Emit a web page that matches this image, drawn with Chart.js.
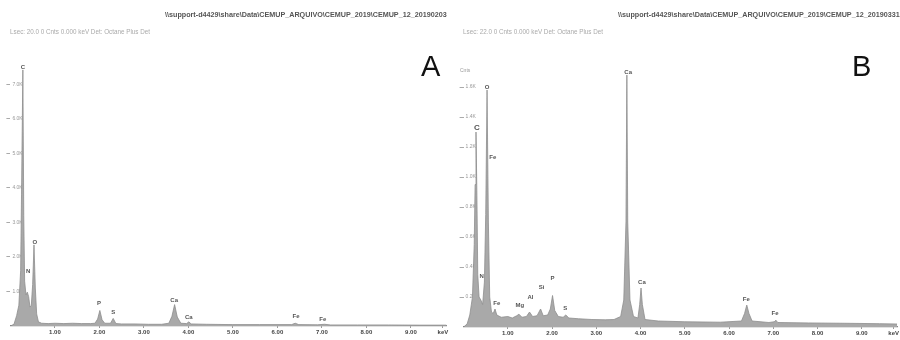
<!DOCTYPE html>
<html>
<head>
<meta charset="utf-8">
<script src="https://cdn.jsdelivr.net/npm/chart.js@4.4.1/dist/chart.umd.min.js"></script>
<style>
  html, body { margin: 0; padding: 0; background: #fff; }
  #wrap { position: relative; width: 900px; height: 340px; overflow: hidden; font-family: "Liberation Sans", Arial, sans-serif; }
  .panel { position: absolute; top: 0; width: 450px; height: 340px; overflow: hidden; }
  .panel canvas { position: absolute; left: 0; top: 0; }
  .path { position: absolute; top: 10px; font-size: 7.2px; font-weight: bold; color: #555; white-space: nowrap; }
  .meta { position: absolute; top: 28px; font-size: 6.3px; color: #aaa; white-space: nowrap; }
  .tag { position: absolute; top: 50px; font-size: 29px; color: #111; }
  .cnts { position: absolute; font-size: 5px; color: #999; }
</style>
</head>
<body>
<div id="wrap">
  <div class="panel" style="left:0">
    <canvas id="specA" width="450" height="340"></canvas>
    <div class="path" style="left:165px">\\support-d4429\share\Data\CEMUP_ARQUIVO\CEMUP_2019\CEMUP_12_20190203</div>
    <div class="meta" style="left:10px">Lsec: 20.0  0 Cnts  0.000 keV  Det: Octane Plus Det</div>
    <div class="tag" style="left:421px">A</div>
  </div>
  <div class="panel" style="left:450px">
    <canvas id="specB" width="450" height="340"></canvas>
    <div class="path" style="left:168px">\\support-d4429\share\Data\CEMUP_ARQUIVO\CEMUP_2019\CEMUP_12_20190331</div>
    <div class="meta" style="left:13px">Lsec: 22.0  0 Cnts  0.000 keV  Det: Octane Plus Det</div>
    <div class="tag" style="left:402px">B</div>
    <div class="cnts" style="left:10px;top:67px">Cnts</div>
  </div>
</div>
<script>
// Energy axis (keV) shared by both spectra
const xTickValues = [1, 2, 3, 4, 5, 6, 7, 8, 9, 9.72];
const xTickLabels = ['1.00', '2.00', '3.00', '4.00', '5.00', '6.00', '7.00', '8.00', '9.00', 'keV'];
const energyMax = 9.8;

// Spectrum A: energy (keV) and counts (K)
const energyA = [0.00, 0.08, 0.14, 0.19, 0.23, 0.25, 0.28, 0.30, 0.32, 0.35, 0.38, 0.41, 0.44, 0.47, 0.50, 0.53, 0.56, 0.59, 0.63, 0.70, 0.85, 1.00, 1.20, 1.40, 1.60, 1.80, 1.90, 1.96, 2.01, 2.06, 2.12, 2.25, 2.31, 2.37, 2.50, 2.80, 3.10, 3.40, 3.56, 3.63, 3.69, 3.75, 3.83, 3.96, 4.01, 4.06, 4.40, 5.00, 5.60, 6.32, 6.40, 6.48, 6.90, 7.06, 7.20, 7.80, 8.50, 9.20, 9.80];
const countsA = [0.00, 0.05, 0.30, 0.60, 1.60, 3.80, 7.42, 3.20, 1.30, 0.90, 0.98, 0.85, 0.55, 0.60, 1.20, 2.35, 1.10, 0.35, 0.12, 0.08, 0.07, 0.08, 0.07, 0.08, 0.07, 0.07, 0.08, 0.20, 0.45, 0.18, 0.08, 0.08, 0.22, 0.07, 0.06, 0.06, 0.05, 0.05, 0.08, 0.28, 0.62, 0.26, 0.08, 0.07, 0.12, 0.06, 0.05, 0.04, 0.04, 0.04, 0.08, 0.04, 0.035, 0.05, 0.03, 0.03, 0.03, 0.025, 0.025];
const yTickValuesA = [1, 2, 3, 4, 5, 6, 7];
const yTickLabelsA = ['1.0K', '2.0K', '3.0K', '4.0K', '5.0K', '6.0K', '7.0K'];
const peakNamesA = ['C', 'N', 'O', 'P', 'S', 'Ca', 'Ca', 'Fe', 'Fe'];
const peakEnergyA = [0.28, 0.40, 0.55, 1.99, 2.31, 3.68, 4.01, 6.42, 7.02];
const peakLevelA = [7.50, 1.57, 2.41, 0.67, 0.41, 0.75, 0.26, 0.29, 0.20];

// Spectrum B: energy (keV) and counts (K)
const energyB = [0.00, 0.08, 0.14, 0.20, 0.24, 0.26, 0.28, 0.30, 0.32, 0.35, 0.39, 0.43, 0.47, 0.50, 0.53, 0.56, 0.59, 0.63, 0.67, 0.71, 0.75, 0.85, 1.00, 1.10, 1.20, 1.25, 1.32, 1.42, 1.49, 1.56, 1.66, 1.74, 1.80, 1.90, 1.96, 2.01, 2.06, 2.14, 2.25, 2.31, 2.38, 2.60, 2.90, 3.20, 3.40, 3.55, 3.62, 3.67, 3.69, 3.71, 3.76, 3.84, 3.94, 3.98, 4.01, 4.04, 4.10, 4.40, 5.00, 5.80, 6.28, 6.35, 6.40, 6.45, 6.52, 6.90, 7.02, 7.06, 7.10, 7.80, 8.60, 9.40, 9.80];
const countsB = [0.00, 0.02, 0.08, 0.20, 0.55, 0.95, 1.30, 0.90, 0.35, 0.20, 0.18, 0.15, 0.30, 0.75, 1.58, 0.70, 0.20, 0.10, 0.09, 0.12, 0.08, 0.065, 0.07, 0.06, 0.075, 0.085, 0.065, 0.07, 0.10, 0.07, 0.075, 0.12, 0.075, 0.08, 0.12, 0.21, 0.11, 0.07, 0.065, 0.08, 0.06, 0.055, 0.05, 0.048, 0.05, 0.07, 0.18, 0.70, 1.68, 0.70, 0.18, 0.07, 0.06, 0.15, 0.26, 0.15, 0.05, 0.04, 0.035, 0.032, 0.04, 0.09, 0.146, 0.09, 0.04, 0.03, 0.035, 0.045, 0.03, 0.027, 0.025, 0.022, 0.02];
const yTickValuesB = [0.2, 0.4, 0.6, 0.8, 1.0, 1.2, 1.4, 1.6];
const yTickLabelsB = ['0.2K', '0.4K', '0.6K', '0.8K', '1.0K', '1.2K', '1.4K', '1.6K'];
const peakNamesB = ['C', 'O', 'Fe', 'N', 'Fe', 'Mg', 'Al', 'Si', 'P', 'S', 'Ca', 'Ca', 'Fe', 'Fe'];
const peakEnergyB = [0.30, 0.53, 0.66, 0.41, 0.75, 1.27, 1.51, 1.76, 2.01, 2.30, 3.72, 4.03, 6.39, 7.04];
const peakLevelB = [1.33, 1.60, 1.13, 0.34, 0.16, 0.147, 0.20, 0.267, 0.327, 0.127, 1.70, 0.30, 0.187, 0.093];

const peakLabelPlugin = {
  id: 'peakLabels',
  afterDatasetsDraw(chart, args, opts) {
    const { ctx, scales } = chart;
    ctx.save();
    ctx.fillStyle = '#555';
    ctx.textAlign = 'center';
    ctx.textBaseline = 'middle';
    opts.names.forEach((name, i) => {
      ctx.font = (name === 'C' && opts.bigC ? 'bold 8px' : 'bold 6px') + ' "Liberation Sans", Arial, sans-serif';
      ctx.fillText(name, scales.x.getPixelForValue(opts.energy[i]), scales.y.getPixelForValue(opts.level[i]));
    });
    ctx.restore();
  }
};

function makeSpectrum(id, energy, counts, yMax, yTicks, yLabels, pad, axisH, names, pE, pL, bigC) {
  const axisFont = { family: '"Liberation Sans", Arial, sans-serif', size: 6, weight: 'bold' };
  return new Chart(document.getElementById(id), {
    type: 'line',
    data: {
      datasets: [{
        data: energy.map((e, i) => ({ x: e, y: counts[i] })),
        borderColor: '#8e8e8e',
        backgroundColor: '#a9a9a9',
        borderWidth: 0.8,
        pointRadius: 0,
        tension: 0,
        fill: 'origin'
      }]
    },
    options: {
      responsive: false,
      animation: false,
      devicePixelRatio: 1,
      layout: { padding: pad },
      plugins: {
        legend: { display: false },
        tooltip: { enabled: false },
        peakLabels: { names: names, energy: pE, level: pL, bigC: bigC }
      },
      scales: {
        x: {
          type: 'linear',
          min: 0,
          max: energyMax,
          afterBuildTicks: s => { s.ticks = xTickValues.map(v => ({ value: v })); },
          afterFit: s => { s.height = axisH; },
          ticks: {
            autoSkip: false,
            maxRotation: 0,
            padding: 1,
            color: '#444',
            font: axisFont,
            callback: (v) => { const i = xTickValues.indexOf(v); return i >= 0 ? xTickLabels[i] : ''; }
          },
          grid: { drawOnChartArea: false, tickLength: 2, color: '#999' },
          border: { display: true, color: '#888', width: 1.2 }
        },
        y: {
          type: 'linear',
          min: 0,
          max: yMax,
          afterBuildTicks: s => { s.ticks = yTicks.map(v => ({ value: v })); },
          afterFit: s => { s.width = 0; },
          ticks: {
            mirror: true,
            padding: 2,
            color: '#999',
            font: { family: '"Liberation Sans", Arial, sans-serif', size: 5 },
            callback: (v) => { const i = yTicks.findIndex(t => Math.abs(t - v) < 1e-6); return i >= 0 ? yLabels[i] : ''; }
          },
          grid: { drawOnChartArea: false, tickLength: 4, color: '#aaa' },
          border: { display: false }
        }
      }
    },
    plugins: [peakLabelPlugin]
  });
}

makeSpectrum('specA', energyA, countsA, 7.65, yTickValuesA, yTickLabelsA,
  { left: 10.4, right: 3.5, top: 62, bottom: 0 }, 14, peakNamesA, peakEnergyA, peakLevelA, false);
makeSpectrum('specB', energyB, countsB, 1.767, yTickValuesB, yTickLabelsB,
  { left: 13.6, right: 0, top: 62, bottom: 0 }, 13, peakNamesB, peakEnergyB, peakLevelB, true);
</script>
</body>
</html>
